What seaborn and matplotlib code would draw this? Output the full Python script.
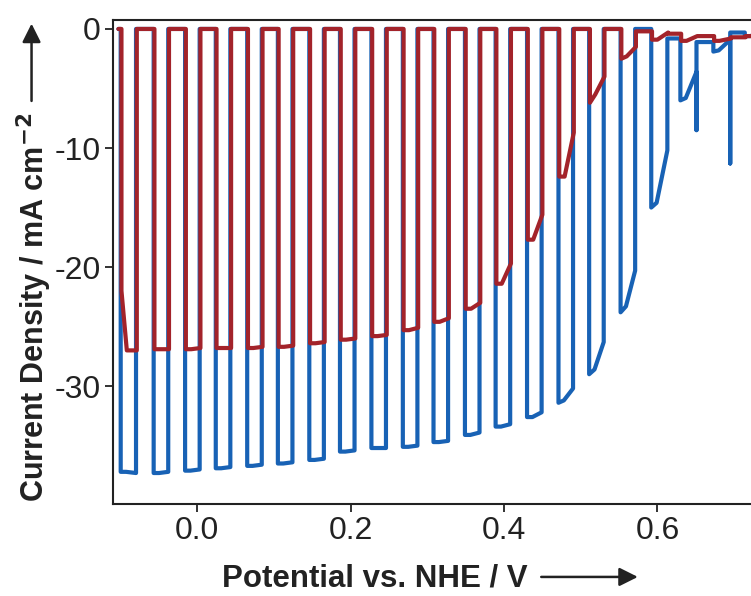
import numpy as np
import pandas as pd
import matplotlib
matplotlib.use("Agg")
import matplotlib.pyplot as plt
import seaborn as sns

# Chopped-light sweep: potentials (V vs. NHE) where the lamp was switched on / off
chop_on = [-0.099, -0.056, -0.015, 0.025, 0.066, 0.106, 0.147, 0.187, 0.228, 0.269,
           0.309, 0.350, 0.390, 0.431, 0.472, 0.512, 0.553, 0.593, 0.631, 0.674, 0.715]
chop_off = [-0.079, -0.037, 0.004, 0.044, 0.085, 0.125, 0.166, 0.206, 0.247, 0.288,
            0.328, 0.369, 0.409, 0.450, 0.491, 0.531, 0.572, 0.614, 0.652, 0.696, 0.734]

# Photocurrent (mA cm^-2): right after switching on, after the initial transient,
# just before switch-off, and the transient at switch-off
blue_first = [-37.2, -37.3, -37.1, -36.9, -36.7, -36.5, -36.2, -35.5, -35.2, -35.1,
              -34.7, -34.1, -33.4, -32.6, -31.4, -29.0, -23.8, -15.0, -6.0, -1.9, -0.6]
blue_settle = [-37.2, -37.3, -37.1, -36.9, -36.7, -36.5, -36.2, -35.5, -35.2, -35.1,
               -34.7, -34.1, -33.4, -32.6, -31.2, -28.6, -23.3, -14.6, -5.8, -1.8, -0.6]
blue_end = [-37.3, -37.2, -37.0, -36.8, -36.6, -36.4, -36.1, -35.4, -35.2, -35.0,
            -34.6, -33.9, -33.2, -32.2, -30.2, -26.3, -20.3, -10.2, -3.6, -0.9, -0.4]
blue_off = [-37.3, -37.2, -37.0, -36.8, -36.6, -36.4, -36.1, -35.4, -35.2, -35.0,
            -34.6, -33.9, -33.2, -32.2, -30.2, -26.3, -20.3, -10.2, -8.5, -11.3, -0.4]
red_first = [-22.0, -26.9, -26.9, -26.8, -26.8, -26.7, -26.4, -26.1, -25.8, -25.3,
             -24.6, -23.5, -21.4, -17.7, -12.4, -6.2, -2.5, -0.9, -1.0, -1.0, -0.6]
red_settle = [-27.0, -26.9, -26.9, -26.8, -26.8, -26.7, -26.4, -26.1, -25.8, -25.3,
              -24.6, -23.5, -21.4, -17.7, -12.4, -5.5, -2.3, -0.9, -1.0, -1.0, -0.6]
red_end = [-27.0, -26.9, -26.8, -26.8, -26.7, -26.6, -26.3, -26.0, -25.7, -25.1,
           -24.3, -23.0, -19.7, -15.6, -8.7, -4.0, -1.5, -0.3, -0.6, -0.8, -0.4]
red_off = red_end
# Dark current between light pulses
blue_dark = [0.0] * 17 + [-0.8, -1.1, -0.3, -0.3]
red_dark = [0.0] * 16 + [-0.2, -0.4, -0.6, -0.7, -0.4]

sweep_start = -0.103
sweep_end = 0.74
settle_span = 0.007

BLUE = "#1862b5"
RED = "#a3232a"
INK = "#222222"


def chopped_trace(first, settle, end, off_jump, dark, shift=0.0):
    xs, ys = [sweep_start], [0.0]
    level = 0.0
    for k in range(len(chop_on)):
        on, off = chop_on[k] + shift, chop_off[k] + shift
        xs += [on, on, on + settle_span, off, off, off]
        ys += [level, first[k], settle[k], end[k], off_jump[k], dark[k]]
        level = dark[k]
    xs.append(sweep_end)
    ys.append(level)
    return pd.DataFrame({"E": xs, "J": ys})


sns.set_theme(style="ticks")
plt.rcParams["font.family"] = ["Liberation Sans", "DejaVu Sans"]
plt.rcParams["axes.unicode_minus"] = False

fig = plt.figure(figsize=(7.51, 5.96), dpi=100)
ax = fig.add_axes([0.1505, 0.1544, 0.8545, 0.812])

blue_df = chopped_trace(blue_first, blue_settle, blue_end, blue_off, blue_dark, shift=-0.001)
red_df = chopped_trace(red_first, red_settle, red_end, red_off, red_dark)
sns.lineplot(data=blue_df, x="E", y="J", sort=False, estimator=None, color=BLUE,
             lw=3.0, ax=ax, solid_joinstyle="round")
sns.lineplot(data=red_df, x="E", y="J", sort=False, estimator=None, color=RED,
             lw=3.0, ax=ax, solid_joinstyle="round")

ax.set_xlim(-0.110, 0.727)
ax.set_ylim(-39.9, 0.75)
ax.set_xticks([0.0, 0.2, 0.4, 0.6])
ax.set_xticklabels(["0.0", "0.2", "0.4", "0.6"])
ax.set_yticks([0, -10, -20, -30])
ax.set_yticklabels(["0", "-10", "-20", "-30"])
ax.tick_params(axis="both", labelsize=23, length=6, width=1.3, color=INK,
               labelcolor=INK, pad=3)
for side in ("left", "bottom", "top"):
    ax.spines[side].set_linewidth(1.5)
    ax.spines[side].set_color(INK)
ax.spines["right"].set_visible(False)

ax.set_xlabel("")
ax.set_ylabel("")

# Axis titles with direction arrows
fig.text(0.2956, 0.030, "Potential vs. NHE / V", fontsize=22.5, fontweight="bold",
         color=INK, ha="left", va="center")
fig.add_artist(matplotlib.patches.FancyArrowPatch(
    (0.717, 0.032), (0.853, 0.032), transform=fig.transFigure,
    arrowstyle="-|>,head_length=0.8,head_width=0.4", mutation_scale=14,
    lw=1.8, color=INK))
fig.text(0.046, 0.485, "Current Density / mA cm$^{\\mathbf{-2}}$", fontsize=22,
         fontweight="bold", color=INK, rotation=90, ha="center", va="center")
fig.add_artist(matplotlib.patches.FancyArrowPatch(
    (0.042, 0.826), (0.042, 0.965), transform=fig.transFigure,
    arrowstyle="-|>,head_length=0.8,head_width=0.4", mutation_scale=14,
    lw=1.8, color=INK))

fig.savefig("out.png", dpi=100)
